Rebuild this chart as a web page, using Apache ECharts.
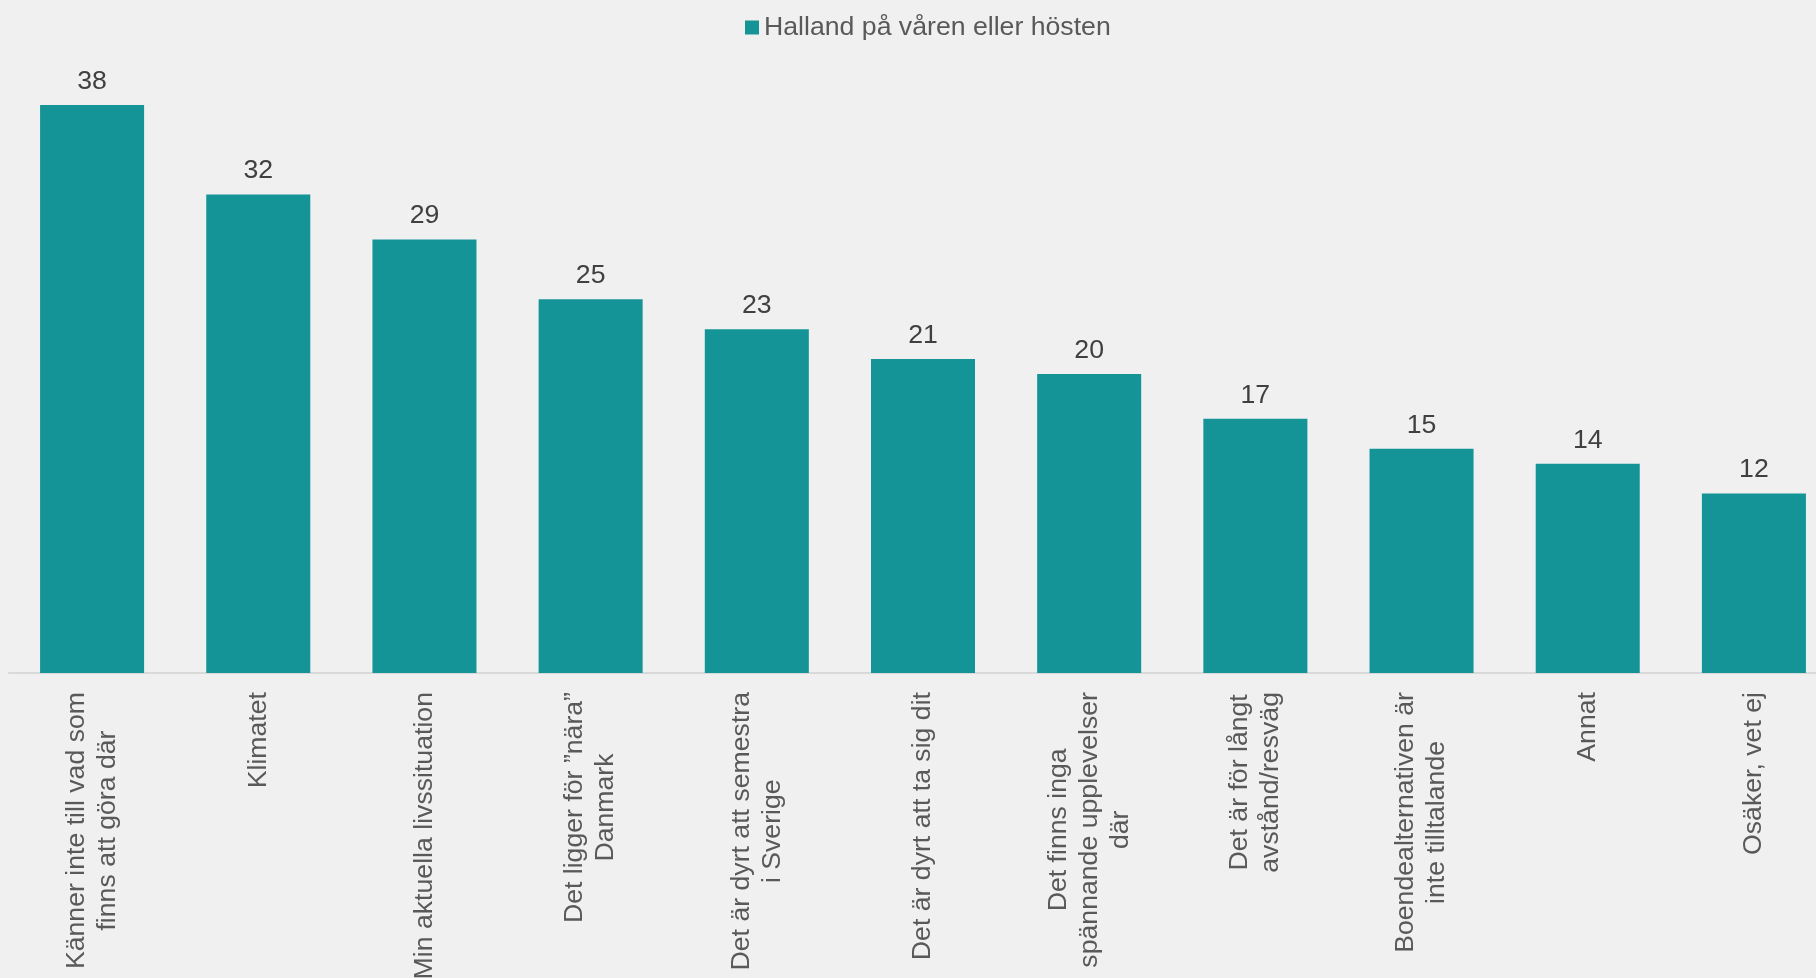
<!DOCTYPE html>
<html>
<head>
<meta charset="utf-8">
<script src="https://cdn.jsdelivr.net/npm/echarts@6/dist/echarts.min.js"></script>
<style>
  html, body { margin: 0; padding: 0; background: #f0f0f0; }
  #chart { width: 1816px; height: 978px; }
</style>
</head>
<body>
<div id="chart"></div>
<script>
// Reasons for not visiting, share in percent
const seriesName = 'Halland på våren eller hösten';
const categories = [
  'Känner inte till vad som\nfinns att göra där',
  'Klimatet',
  'Min aktuella livssituation',
  'Det ligger för ”nära”\nDanmark',
  'Det är dyrt att semestra\ni Sverige',
  'Det är dyrt att ta sig dit',
  'Det finns inga\nspännande upplevelser\ndär',
  'Det är för långt\navstånd/resväg',
  'Boendealternativen är\ninte tilltalande',
  'Annat',
  'Osäker, vet ej'
];
const values = [38, 32, 29, 25, 23, 21, 20, 17, 15, 14, 12];

const font = 'Liberation Sans, Arial, sans-serif';
const fs = 26.67;
const chart = echarts.init(document.getElementById('chart'), null, { renderer: 'canvas' });

chart.setOption({
  backgroundColor: '#f0f0f0',
  animation: false,
  legend: {
    top: 9,
    left: 740,
    icon: 'rect',
    itemWidth: 14,
    itemHeight: 14,
    textStyle: { fontFamily: font, fontSize: fs, color: '#595959' },
    data: [seriesName]
  },
  // plot area runs slightly past the right edge of the canvas
  grid: {
    left: 9, top: 75, width: 1828, height: 598,
    containLabel: false,
    outerBoundsMode: 'none'
  },
  xAxis: {
    type: 'category',
    data: categories,
    axisLine: { show: true, lineStyle: { color: '#d9d9d9', width: 2 } },
    axisTick: { show: false },
    axisLabel: {
      interval: 0,
      rotate: 90,
      margin: 19,
      // centre each line of a wrapped label within its block
      formatter: function (v) {
        return v.split('\n').map(function (s) { return '{c|' + s + '}'; }).join('\n');
      },
      rich: {
        c: { align: 'center', fontFamily: font, fontSize: fs, lineHeight: 31, color: '#595959' }
      }
    }
  },
  yAxis: {
    type: 'value',
    min: 0,
    max: 40,
    show: false,
    splitLine: { show: false }
  },
  series: [{
    name: seriesName,
    type: 'bar',
    data: values,
    barCategoryGap: '37.4%',
    itemStyle: { color: '#159497' },
    label: {
      show: true,
      position: 'top',
      distance: 10,
      fontFamily: font,
      fontSize: fs,
      color: '#404040'
    }
  }]
});
</script>
</body>
</html>
